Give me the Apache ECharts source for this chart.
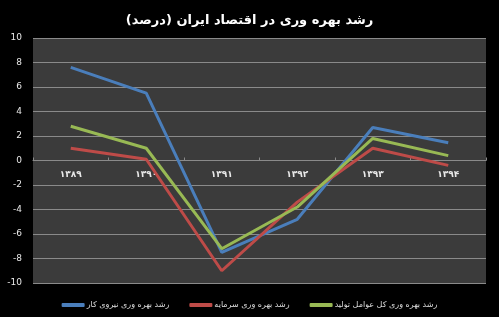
<!DOCTYPE html>
<html><head><meta charset="utf-8">
<script src="https://cdn.jsdelivr.net/npm/echarts@6/dist/echarts.min.js"></script>
<style>html,body{margin:0;padding:0;background:#000}#c{width:499px;height:317px}</style>
</head><body><div id="c"></div>
<script>
const categories = ['۱۳۸۹','۱۳۹۰','۱۳۹۱','۱۳۹۲','۱۳۹۳','۱۳۹۴'];
const labor = [7.6, 5.5, -7.5, -4.8, 2.7, 1.45];
const capital = [1.0, 0.1, -9.0, -3.4, 1.0, -0.4];
const tfp = [2.8, 1.0, -7.2, -3.8, 1.8, 0.4];
const seriesNames = ['رشد بهره وری نیروی کار','رشد بهره وری سرمایه','رشد بهره وری کل عوامل تولید'];
const titleText = 'رشد بهره وری در اقتصاد ایران (درصد)';

const gridTop = 38, gridBottom = 34, H = 317;
const zeroOffset = -((H - gridTop - gridBottom) / 2);

const chart = echarts.init(document.getElementById('c'));
const colors = ['#4a7ebb','#be4b48','#98b954'];
chart.setOption({
  backgroundColor:'#000',
  animation:false,
  title:{text:titleText,left:'center',top:9,textStyle:{color:'#fff',fontSize:13,fontWeight:'bold',fontFamily:'DejaVu Sans'}},
  legend:{bottom:3,left:'center',itemWidth:23,itemHeight:4,itemGap:20,icon:'roundRect',
    textStyle:{color:'#ddd',fontSize:8,fontFamily:'DejaVu Sans',padding:[0,0,0,-3]},data:seriesNames},
  grid:{left:33,right:13,top:gridTop,bottom:gridBottom,show:true,backgroundColor:'#3b3b3b',borderWidth:0},
  xAxis:{type:'category',data:categories,boundaryGap:true,position:'bottom',offset:zeroOffset,
    axisLine:{onZero:false,lineStyle:{color:'#8a8a8a',width:1}},
    axisTick:{show:true,length:-3,lineStyle:{color:'#8a8a8a'}},
    axisLabel:{color:'#e8e8e8',fontSize:9,fontWeight:'bold',margin:10,fontFamily:'DejaVu Sans'}},
  yAxis:{type:'value',min:-10,max:10,interval:2,
    axisLine:{show:false},axisTick:{show:false},
    axisLabel:{color:'#e8e8e8',fontSize:9,margin:11,fontFamily:'DejaVu Sans'},
    splitLine:{lineStyle:{color:'#8a8a8a',width:1}}},
  series:[
    {name:seriesNames[0],type:'line',data:labor,symbol:'none',lineStyle:{width:3,color:colors[0]},itemStyle:{color:colors[0]}},
    {name:seriesNames[1],type:'line',data:capital,symbol:'none',lineStyle:{width:3,color:colors[1]},itemStyle:{color:colors[1]}},
    {name:seriesNames[2],type:'line',data:tfp,symbol:'none',lineStyle:{width:3,color:colors[2]},itemStyle:{color:colors[2]}}
  ]
});
</script></body></html>
